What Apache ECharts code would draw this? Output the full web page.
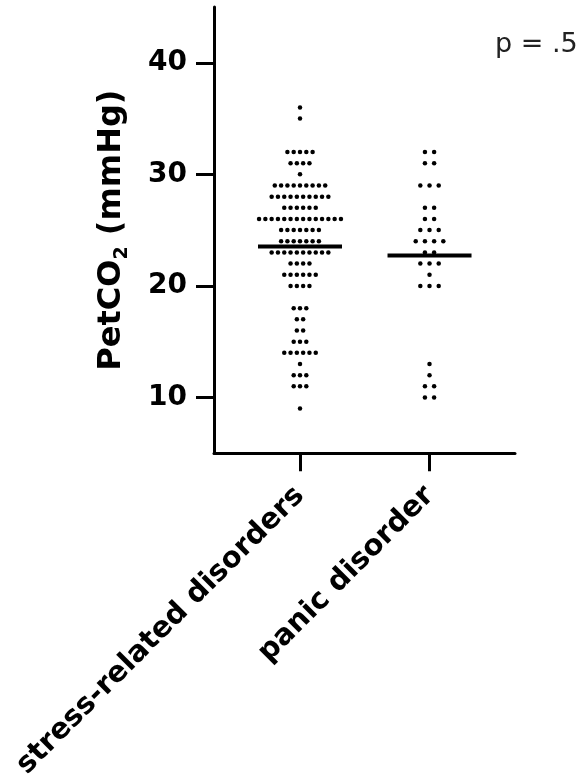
<!DOCTYPE html>
<html>
<head>
<meta charset="utf-8">
<script src="https://cdn.jsdelivr.net/npm/echarts@6/dist/echarts.min.js"></script>
<style>
  html, body { margin: 0; padding: 0; background: #fff; }
  #main { width: 588px; height: 782px; }
</style>
</head>
<body>
<div id="main"></div>
<script>
// 组别
var categories = ['stress-related disorders', 'panic disorder'];
var yTicks = [10, 20, 30, 40];

// 每组的取值以及每个取值的点数
var stressLevels = [36, 35, 32, 31, 30, 29, 28, 27, 26, 25, 24, 23, 22, 21, 20, 18, 17, 16, 15, 14, 13, 12, 11, 9];
var stressCounts = [1, 1, 5, 4, 1, 9, 10, 6, 14, 7, 7, 10, 4, 6, 4, 3, 2, 2, 3, 6, 1, 3, 3, 1];
var panicLevels = [32, 31, 29, 27, 26, 25, 24, 23, 22, 21, 20, 13, 12, 11, 10];
var panicCounts = [2, 2, 3, 2, 2, 3, 4, 2, 3, 1, 3, 1, 1, 2, 2];

var FONT = 'DejaVu Sans';

// 把同一取值的点横向排开
function swarm(group, levels, counts, spacing) {
    var out = [];
    for (var i = 0; i < levels.length; i++) {
        var n = counts[i];
        for (var k = 0; k < n; k++) {
            out.push({
                value: [group, levels[i]],
                symbolOffset: [(k - (n - 1) / 2) * spacing, 0]
            });
        }
    }
    return out;
}

function mean(levels, counts) {
    var s = 0, n = 0;
    for (var i = 0; i < levels.length; i++) {
        s += levels[i] * counts[i];
        n += counts[i];
    }
    return s / n;
}

var myChart = echarts.init(document.getElementById('main'));

var option = {
    animation: false,
    grid: { left: 214, right: 73, top: 7, bottom: 324 },
    xAxis: {
        type: 'value',
        min: -0.664,
        max: 1.66,
        splitLine: { show: false },
        axisLine: { show: true, onZero: false, lineStyle: { color: '#000', width: 3 } },
        axisTick: { show: true, customValues: [0, 1], length: 18, lineStyle: { color: '#000', width: 3 } },
        axisLabel: {
            customValues: [0, 1],
            formatter: function (v) { return categories[Math.round(v)]; },
            rotate: 45,
            margin: 38,
            color: '#000',
            fontFamily: FONT,
            fontWeight: 'bold',
            fontSize: 29
        }
    },
    yAxis: {
        type: 'value',
        min: 5,
        max: 45,
        splitLine: { show: false },
        axisLine: { show: true, onZero: false, lineStyle: { color: '#000', width: 3 } },
        axisTick: { show: true, customValues: yTicks, length: 18, lineStyle: { color: '#000', width: 3 } },
        axisLabel: {
            customValues: yTicks,
            margin: 27,
            color: '#000',
            fontFamily: FONT,
            fontWeight: 'bold',
            fontSize: 28
        },
        name: '{a|PetCO}{sub|2}{a| (mmHg)}',
        nameLocation: 'middle',
        nameRotate: 90,
        nameGap: 82,
        nameTextStyle: {
            rich: {
                a: { fontFamily: FONT, fontWeight: 'bold', fontSize: 32, lineHeight: 40, color: '#000' },
                sub: { fontFamily: FONT, fontWeight: 'bold', fontSize: 19, lineHeight: 4, verticalAlign: 'bottom', color: '#000' }
            }
        }
    },
    graphic: [{
        type: 'text',
        left: 495,
        top: 31,
        style: { text: 'p = .5', font: '27px "DejaVu Sans"', fill: '#222' }
    }],
    series: [
        {
            type: 'scatter',
            symbol: 'circle',
            symbolSize: 4.5,
            itemStyle: { color: '#000', opacity: 1 },
            data: swarm(0, stressLevels, stressCounts, 6.3)
        },
        {
            type: 'scatter',
            symbol: 'circle',
            symbolSize: 4.5,
            itemStyle: { color: '#000', opacity: 1 },
            data: swarm(1, panicLevels, panicCounts, 9.2)
        },
        {
            type: 'scatter',
            symbol: 'rect',
            symbolSize: [84, 4],
            itemStyle: { color: '#000', opacity: 1 },
            data: [[0, mean(stressLevels, stressCounts)], [1, mean(panicLevels, panicCounts)]]
        }
    ]
};

myChart.setOption(option);
</script>
</body>
</html>
